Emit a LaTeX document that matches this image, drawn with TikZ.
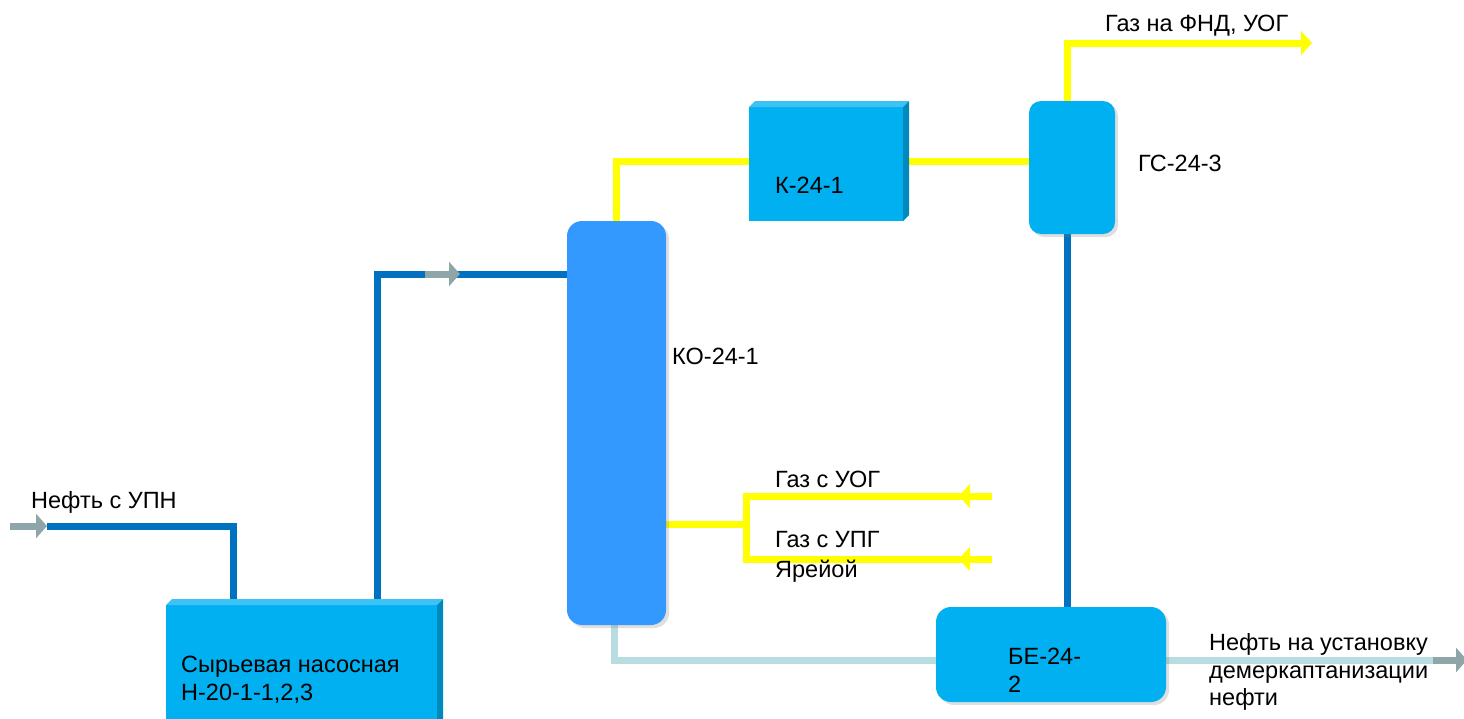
\documentclass[tikz,border=0pt]{standalone}
\usepackage{fontspec}
\setmainfont{Liberation Sans}
\usetikzlibrary{arrows.meta,calc,shadows}
\definecolor{cyanbox}{HTML}{00B0F0}
\definecolor{cyantop}{HTML}{3CC2F4}
\definecolor{cyanside}{HTML}{0089BC}
\definecolor{colblue}{HTML}{3399FF}
\definecolor{pipeblue}{HTML}{0070C0}
\definecolor{gasyellow}{HTML}{FFFF00}
\definecolor{oillight}{HTML}{B7DDE0}
\definecolor{arrowgray}{HTML}{8EA6A8}
\begin{document}
\begin{tikzpicture}[x=1pt,y=-1pt,
  font=\fontsize{23.5}{28}\selectfont,
  box3d/.style={fill=cyanbox, draw=none, inner sep=0pt, outer sep=0pt, anchor=north west},
  vessel/.style={fill=cyanbox, draw=none, rounded corners=13pt, inner sep=0pt, outer sep=0pt, anchor=north west,
    drop shadow={shadow xshift=3pt, shadow yshift=-3pt, opacity=0.25}},
  topface/.style={fill=cyantop, draw=none},
  sideface/.style={fill=cyanside, draw=none},
  bluepipe/.style={draw=pipeblue, line width=7pt},
  yellowpipe/.style={draw=gasyellow, line width=7pt},
  lightpipe/.style={draw=oillight, line width=7pt},
  grayarrow/.style={draw=arrowgray, line width=7pt, -{Triangle[length=11pt,width=24pt,fill=arrowgray]}},
  yellowarrow/.style={draw=gasyellow, line width=7pt, -{Triangle[length=11pt,width=24pt,fill=gasyellow]}},
  lbl/.style={anchor=base west, inner sep=0pt, text=black}]
\clip (0,0) rectangle (1464,718);
\fill[white] (0,0) rectangle (1464,718);

% ports / free ends
\coordinate (src) at (10,526);
\coordinate (srcA) at (47,526);
\coordinate (pumpIn) at (233.5,605);
\coordinate (pumpOut) at (377,605);
\coordinate (colIn) at (567,274);
\coordinate (mA) at (425,274);
\coordinate (mB) at (460,274);
\coordinate (colTop) at (616,221);
\coordinate (kIn) at (749,161);
\coordinate (kOut) at (900,161);
\coordinate (gsIn) at (1029,161);
\coordinate (gsTop) at (1067,101);
\coordinate (gasOut) at (1312,43);
\coordinate (gsBot) at (1067,234);
\coordinate (beTop) at (1067,607);
\coordinate (colBot) at (614,625);
\coordinate (beIn) at (936,660);
\coordinate (beOut) at (1166,660);
\coordinate (prodA) at (1433,660);
\coordinate (prodB) at (1467,660);
\coordinate (colSide) at (666,524);
\coordinate (jn) at (746,524);
\coordinate (uogEnd) at (992,496);
\coordinate (uogTip) at (959,496);
\coordinate (upgEnd) at (992,559);
\coordinate (upgTip) at (959,559);

% pipes
\draw[bluepipe] (srcA) -| (pumpIn);
\draw[bluepipe] (pumpOut) |- (colIn);
\draw[yellowpipe] (colTop) |- (kIn);
\draw[yellowpipe] (kOut) -- (gsIn);
\draw[yellowarrow] (gsTop) |- (gasOut);
\draw[bluepipe] (gsBot) -- (beTop);
\draw[lightpipe] (colBot) |- (beIn);
\draw[lightpipe] (beOut) -- (prodA);
\draw[yellowpipe] (colSide) -- (jn);
\draw[yellowpipe] (uogEnd) -| (upgEnd -| jn) -- (upgEnd);
\draw[yellowarrow] (uogEnd) -- (uogTip);
\draw[yellowarrow] (upgEnd) -- (upgTip);
\draw[grayarrow] (src) -- (srcA);
\draw[grayarrow] (mA) -- (mB);
\draw[grayarrow] (prodA) -- (prodB);

% pump station (3D box)
\node[box3d, minimum width=271pt, minimum height=130pt] (pump) at (166,605) {};
\fill[topface] (pump.north west) -- ($(pump.north west)+(6,-6)$) -- ($(pump.north east)+(6,-6)$) -- (pump.north east) -- cycle;
\fill[sideface] (pump.north east) -- ($(pump.north east)+(6,-6)$) -- ($(pump.south east)+(6,-6)$) -- (pump.south east) -- cycle;

% K-24-1 (3D box)
\node[box3d, minimum width=154pt, minimum height=114pt] (k) at (749,107) {};
\fill[topface] (k.north west) -- ($(k.north west)+(6,-6)$) -- ($(k.north east)+(6,-6)$) -- (k.north east) -- cycle;
\fill[sideface] (k.north east) -- ($(k.north east)+(6,-6)$) -- ($(k.south east)+(6,-6)$) -- (k.south east) -- cycle;

% column, separator, tank
\node[vessel, fill=colblue, minimum width=99pt, minimum height=404pt, rounded corners=15pt] (col) at (567,221) {};
\node[vessel, minimum width=86pt, minimum height=133pt, rounded corners=12pt] (gs) at (1029,101) {};
\node[vessel, minimum width=230pt, minimum height=95pt, rounded corners=15pt] (be) at (936,607) {};

% labels
\node[lbl] (tin) at (31,508) {Нефть с УПН};
\node[lbl] (tpump1) at (181,672) {Сырьевая насосная};
\node[lbl] (tpump2) at (181,700) {Н-20-1-1,2,3};
\node[lbl] (tk) at (775,193) {К-24-1};
\node[lbl] (tko) at (672,364) {КО-24-1};
\node[lbl] (tgs) at (1138,171) {ГС-24-3};
\node[lbl] (tout) at (1105,31) {Газ на ФНД, УОГ};
\node[lbl] (tuog) at (775,487) {Газ с УОГ};
\node[lbl] (tupg) at (775,547) {Газ с УПГ};
\node[lbl] (tyar) at (775,577) {Ярейой};
\node[lbl] (tbe1) at (1008,664) {БЕ-24-};
\node[lbl] (tbe2) at (1008,692) {2};
\node[lbl] (tprod1) at (1209,650) {Нефть на установку};
\node[lbl] (tprod2) at (1209,678) {демеркаптанизации};
\node[lbl] (tprod3) at (1209,705) {нефти};
\end{tikzpicture}
\end{document}
